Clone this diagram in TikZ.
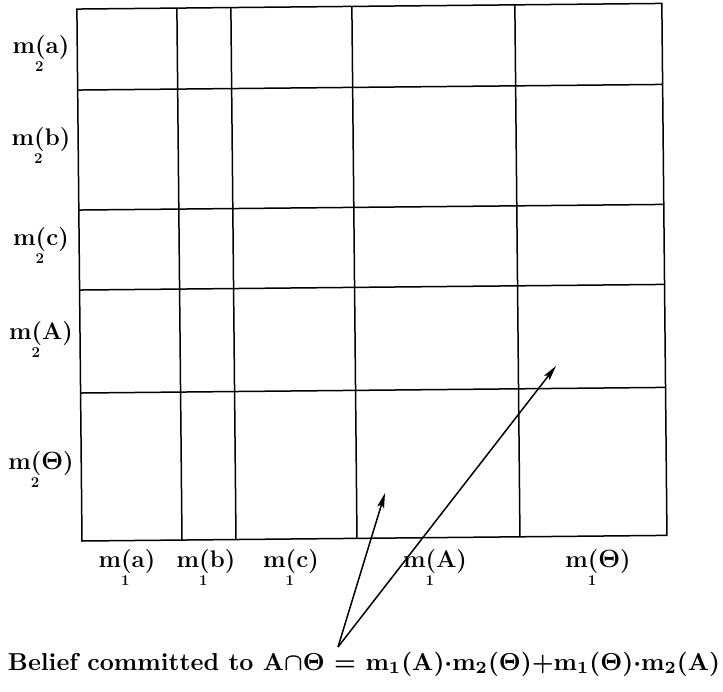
\documentclass[tikz,border=0pt]{standalone}
\usepackage{bm}
\usetikzlibrary{arrows.meta}
\newcommand{\mlab}[2]{m\rlap{\smash{\raisebox{-0.72em}{\fontsize{15}{15}\selectfont #1}}}(#2)}
\begin{document}
\begin{tikzpicture}[x=1pt,y=-1pt,
  gridline/.style={line width=1.5pt},
  lab/.style={font=\fontsize{24}{28}\selectfont\bfseries, inner sep=0pt},
  arr/.style={line width=1.5pt, -{Stealth[length=15pt,width=7pt,inset=3pt]}}]
\useasboundingbox (0,0) rectangle (723,691);
\begin{scope}[rotate around={0.55:(82,541)}]
  \draw[gridline] (82,9) rectangle (667,541);
  \foreach \xx in {182,236,357,520} \draw[gridline] (\xx,9) -- (\xx,541);
  \foreach \yy in {90,210,290,393} \draw[gridline] (82,\yy) -- (667,\yy);
\end{scope}
% row labels
\node[lab] (ra) at (41,48) {\mlab{2}{a}};
\node[lab] (rb) at (41,140) {\mlab{2}{b}};
\node[lab] (rc) at (41,240) {\mlab{2}{c}};
\node[lab] (rA) at (41,334) {\mlab{2}{A}};
\node[lab] (rT) at (41,464) {\mlab{2}{$\bm\Theta$}};
% column labels
\node[lab] (ca) at (127,562) {\mlab{1}{a}};
\node[lab] (cb) at (206,562) {\mlab{1}{b}};
\node[lab] (cc) at (291,562) {\mlab{1}{c}};
\node[lab] (cA) at (435,562) {\mlab{1}{A}};
\node[lab] (cT) at (598,562) {\mlab{1}{$\bm\Theta$}};
% formula
\node[inner sep=0pt] (form) at (364,664) {\resizebox{712pt}{!}{\bfseries Belief committed to A$\bm{\cap\Theta}$ $\bm{=}$ m\textsubscript{1}(A)$\bm\cdot$m\textsubscript{2}($\bm\Theta$)+m\textsubscript{1}($\bm\Theta$)$\bm\cdot$m\textsubscript{2}(A)}};
\coordinate (apex) at (338,647);
\coordinate (t1) at (385,493);
\coordinate (t2) at (556,366);
\draw[arr] (apex) -- (t1);
\draw[arr] (apex) -- (t2);
\end{tikzpicture}
\end{document}
